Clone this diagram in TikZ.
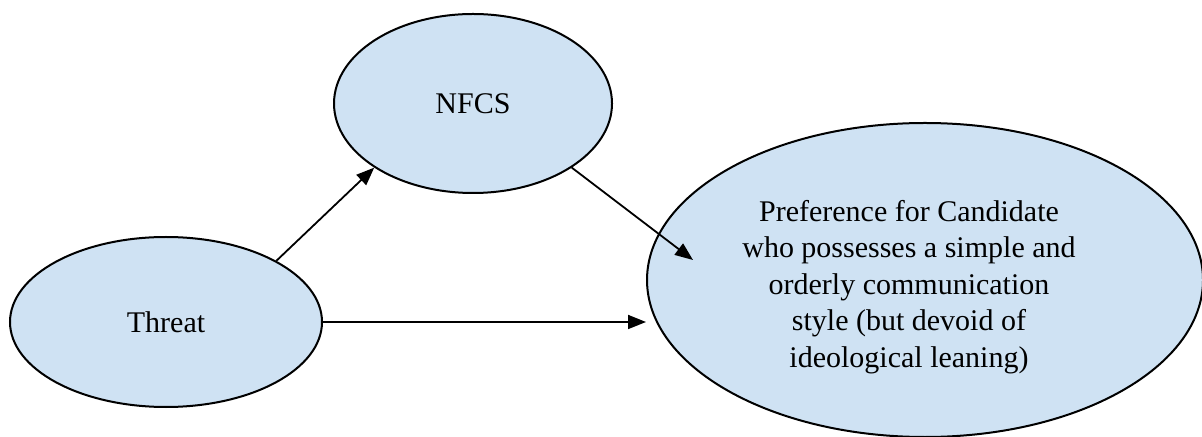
\documentclass[tikz,border=0pt]{standalone}
\usepackage{fontspec}
\setmainfont{Liberation Serif}
\usetikzlibrary{arrows.meta,calc,shapes.geometric}

\definecolor{bubble}{RGB}{207,226,243}

\tikzset{
  bubble/.style={ellipse, draw=black, fill=bubble, line width=1pt, inner sep=0pt},
  link/.style={line width=0.9pt, -{Triangle[length=9pt,width=7pt]}},
  txt/.style={font=\fontsize{15pt}{18.25pt}\selectfont, inner sep=0pt, align=center}
}

\begin{document}
\begin{tikzpicture}[x=0.5pt, y=-0.5pt]
  \useasboundingbox (0,0) rectangle (1202,437);

  % the three constructs
  \node[bubble, txt, minimum width=156pt, minimum height=85pt] (threat) at (166,322) {Threat};
  \node[bubble, txt, minimum width=139pt, minimum height=89.5pt] (nfcs) at (473,103.5) {NFCS};
  \node[bubble, minimum width=278pt, minimum height=157pt] (pref) at (925,280) {};
  \node[txt] (preftext) at (909,287) {Preference for Candidate\\
    who possesses a simple and\\
    orderly communication\\
    style (but devoid of\\
    ideological leaning)};

  % end point of the mediated path, inside the outcome
  \coordinate (pref-in) at (693,260);

  % paths
  \draw[link] (threat.29) -- (nfcs.213);
  \draw[link] (nfcs.327) -- (pref-in);
  \draw[link] (threat.east) -- (threat.east -| pref.west);
\end{tikzpicture}
\end{document}
